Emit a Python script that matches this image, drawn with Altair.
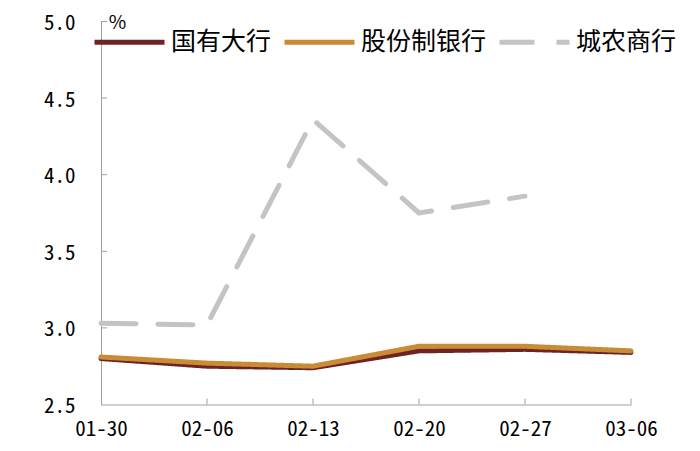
import altair as alt
import pandas as pd

dates = ["01-30", "02-06", "02-13", "02-20", "02-27", "03-06"]
series_names = ["国有大行", "股份制银行", "城农商行"]
state_banks = [2.80, 2.75, 2.74, 2.85, 2.86, 2.84]
joint_stock = [2.81, 2.77, 2.75, 2.88, 2.88, 2.85]
rural_city = [3.03, 3.02, 4.36, 3.75, 3.86, None]
y_ticks = [2.5, 3.0, 3.5, 4.0, 4.5, 5.0]
colors = ["#6E2326", "#C98B33", "#C4C4C4"]
dashes = [[1, 0], [1, 0], [35, 22]]

rows = []
for name, vals in zip(series_names, [state_banks, joint_stock, rural_city]):
    for d, v in zip(dates, vals):
        if v is not None:
            rows.append({"date": d, "series": name, "value": v})
df = pd.DataFrame(rows)

W, H = 530, 383
FONT = "Noto Sans Mono CJK SC, Noto Sans CJK SC, sans-serif"
CJK = "Noto Sans CJK SC, sans-serif"
AXC = "#A0A0A0"

xscale = alt.Scale(type="point", padding=0, domain=dates)
yscale = alt.Scale(domain=[2.5, 5.0], nice=False, zero=False)

legend = alt.Legend(
    orient="none", legendX=-9, legendY=-17, direction="horizontal", title=None,
    symbolType="stroke", symbolSize=4900, symbolStrokeWidth=5,
    labelFontSize=25, labelFont=CJK, labelColor="#000000", labelOffset=4,
    columnPadding=2, padding=0, labelLimit=400,
)

xaxis = alt.Axis(title=None, labelAngle=0, ticks=False, labelFontSize=21,
                 labelFont=FONT, labelColor="#000000", labelPadding=14,
                 domainColor=AXC, domainWidth=1, grid=False)
yaxis = alt.Axis(title="%", titleAngle=0, titleX=16, titleY=1, titleAlign="center",
                 titleBaseline="middle", titleFontSize=19, titleFontWeight="normal",
                 titleFont=CJK, titleColor="#000000",
                 values=y_ticks, format=".1f", ticks=False, labelFontSize=21,
                 labelFont=FONT, labelColor="#000000", labelPadding=26, labelOffset=2,
                 labelFlush=False, labelOverlap=False,
                 domainColor=AXC, domainWidth=1, grid=False)

lines = alt.Chart(df).mark_line(strokeWidth=5, strokeCap="round", strokeJoin="round").encode(
    x=alt.X("date:O", scale=xscale, sort=dates, axis=xaxis),
    y=alt.Y("value:Q", scale=yscale, axis=yaxis),
    color=alt.Color("series:N", scale=alt.Scale(domain=series_names, range=colors), legend=legend),
    strokeDash=alt.StrokeDash("series:N", scale=alt.Scale(domain=series_names, range=dashes), legend=legend),
)

ytick_df = pd.DataFrame({"value": y_ticks[1:]})
xtick_df = pd.DataFrame({"date": dates[1:]})

yticks = alt.Chart(ytick_df).mark_rule(color=AXC, strokeWidth=1).encode(
    y=alt.Y("value:Q", scale=yscale, axis=yaxis), x=alt.value(0), x2=alt.value(6))
xticks = alt.Chart(xtick_df).mark_rule(color=AXC, strokeWidth=1).encode(
    x=alt.X("date:O", scale=xscale, sort=dates, axis=xaxis), y=alt.value(H), y2=alt.value(H - 6))

chart = alt.layer(lines, yticks, xticks).properties(
    width=W, height=H,
    autosize=alt.AutoSizeParams(type="none"),
    padding={"left": 93, "top": 13.5, "right": 60, "bottom": 37},
    background="#FFFFFF",
).configure_view(stroke=None)

chart.save("out.html", embed_options={"renderer": "svg", "actions": False})
